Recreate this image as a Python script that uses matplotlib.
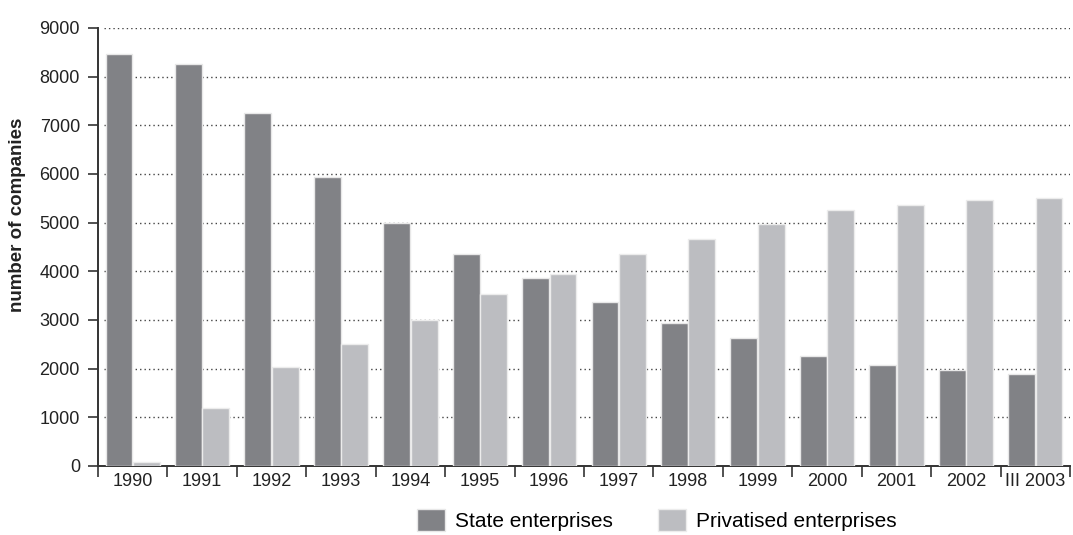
import matplotlib
matplotlib.use("Agg")
import matplotlib.pyplot as plt
import numpy as np

categories = ["1990", "1991", "1992", "1993", "1994", "1995", "1996",
              "1997", "1998", "1999", "2000", "2001", "2002", "III 2003"]
state = [8460, 8260, 7260, 5940, 4990, 4360, 3860, 3380, 2930, 2620, 2270, 2070, 1970, 1900]
privatised = [80, 1200, 2030, 2510, 3000, 3540, 3950, 4360, 4670, 4980, 5260, 5360, 5460, 5500]
y_ticks = [0, 1000, 2000, 3000, 4000, 5000, 6000, 7000, 8000, 9000]

plt.rcParams['font.family'] = ['Liberation Sans', 'DejaVu Sans']

fig = plt.figure(figsize=(10.73, 5.35), dpi=100)
ax = fig.add_axes([98/1073, 1-466/535, (1070-98)/1073, (466-28)/535])

x = np.arange(len(categories))
w = 0.385
c_state = '#818286'
c_priv = '#bcbdc1'
ax.bar(x - w/2 - 0.005, state, width=w, color=c_state, edgecolor='#e8e8e8', linewidth=1.0, zorder=3,
       label='State enterprises')
ax.bar(x + w/2 + 0.005, privatised, width=w, color=c_priv, edgecolor='#ececec', linewidth=1.0, zorder=3,
       label='Privatised enterprises')

ax.set_xlim(-0.5, len(categories) - 0.5)
ax.set_ylim(0, 9000)

# gridlines (not at 0)
for yv in y_ticks[1:]:
    ax.axhline(yv, xmin=0.006, xmax=1.0, color='#444444', linestyle=(0, (1, 2.2)), linewidth=1.0, zorder=1)

ax.set_yticks(y_ticks)
ax.set_yticklabels([str(v) for v in y_ticks], fontsize=13, color='#222222')
ax.tick_params(axis='y', direction='out', length=7, width=1.2, pad=6, color='#333333')

ax.set_xticks(x)
ax.set_xticklabels(categories, fontsize=13, color='#222222')
ax.set_xticks(np.arange(len(categories) + 1) - 0.5, minor=True)
ax.tick_params(axis='x', which='major', length=0, pad=5)
ax.tick_params(axis='x', which='minor', direction='out', length=8, width=1.2, color='#333333')

for s in ['top', 'right']:
    ax.spines[s].set_visible(False)
for s in ['left', 'bottom']:
    ax.spines[s].set_color('#333333')
    ax.spines[s].set_linewidth(1.4)

ax.set_ylabel('number of companies', fontsize=13.5, fontweight='bold', color='#222222')
ax.yaxis.set_label_coords(-0.074, 0.573)

fig.legend(loc='center', bbox_to_anchor=(0.612, 0.028), ncol=2, frameon=False, fontsize=15,
           handlelength=1.35, handleheight=1.3, handletextpad=0.45, columnspacing=2.2, borderpad=0)

fig.savefig('out.png', dpi=100)
